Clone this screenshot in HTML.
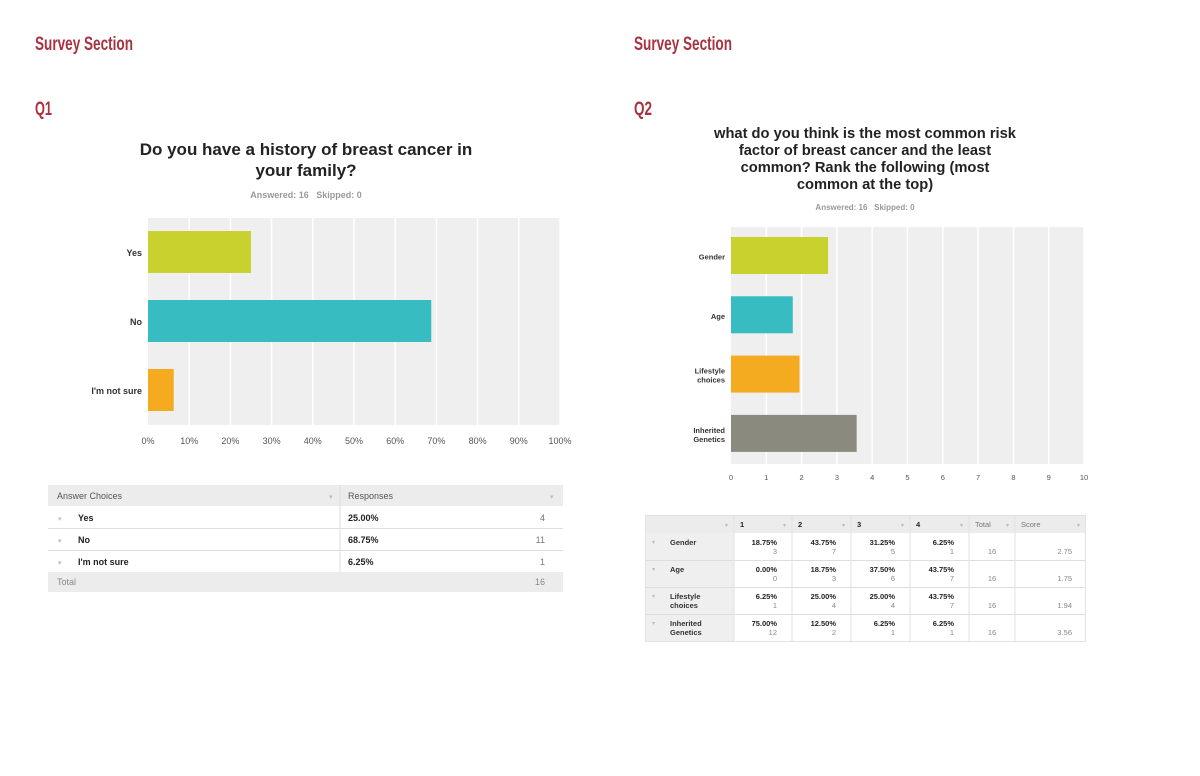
<!DOCTYPE html>
<html><head><meta charset="utf-8">
<style>
body{margin:0;background:#fff;}
svg{display:block;font-family:"Liberation Sans",sans-serif;}
.hd{font-family:"Liberation Sans Narrow","Liberation Sans",sans-serif;font-weight:bold;fill:#a83240;}
</style></head>
<body>
<svg id="s" width="1200" height="776" viewBox="0 0 1200 776">
<text class="hd" x="35" y="50" font-size="19" textLength="98" lengthAdjust="spacingAndGlyphs">Survey Section</text>
<text class="hd" x="35" y="115" font-size="19" textLength="17" lengthAdjust="spacingAndGlyphs">Q1</text>
<text class="hd" x="634" y="50" font-size="19" textLength="98" lengthAdjust="spacingAndGlyphs">Survey Section</text>
<text class="hd" x="634" y="115" font-size="19" textLength="18" lengthAdjust="spacingAndGlyphs">Q2</text>
<g font-weight="bold" font-size="17" fill="#222" text-anchor="middle">
<text x="306" y="155">Do you have a history of breast cancer in</text>
<text x="306" y="176">your family?</text></g>
<text x="306" y="198" font-size="9" fill="#999" text-anchor="middle" font-weight="bold">Answered: 16&#160;&#160;&#160;Skipped: 0</text>
<g font-weight="bold" font-size="14.7" fill="#222" text-anchor="middle">
<text x="865" y="138">what do you think is the most common risk</text>
<text x="865" y="155">factor of breast cancer and the least</text>
<text x="865" y="172">common? Rank the following (most</text>
<text x="865" y="189">common at the top)</text></g>
<text x="865" y="210" font-size="8" fill="#999" text-anchor="middle" font-weight="bold">Answered: 16&#160;&#160;&#160;Skipped: 0</text>
<g id="c1"></g><g id="c2"></g><g id="t1"></g><g id="t2"></g>
</svg>
<script>
const q1Cats=["Yes","No","I'm not sure"];
const q1Vals=[25,68.75,6.25];
const q1Ticks=[0,10,20,30,40,50,60,70,80,90,100];
const q1Colors=["#c8d12e","#36bcc1","#f5ab1f"];
const q2Cats=[["Gender"],["Age"],["Lifestyle","choices"],["Inherited","Genetics"]];
const q2Vals=[2.75,1.75,1.94,3.56];
const q2Ticks=[0,1,2,3,4,5,6,7,8,9,10];
const q2Colors=["#c8d12e","#36bcc1","#f5ab1f","#8a8b7e"];
const q1Counts=[4,11,1];
const q2Pct=[["18.75%","43.75%","31.25%","6.25%"],["0.00%","18.75%","37.50%","43.75%"],["6.25%","25.00%","25.00%","43.75%"],["75.00%","12.50%","6.25%","6.25%"]];
const q2Cnt=[[3,7,5,1],[0,3,6,7],[1,4,4,7],[12,2,1,1]];
const q2Total=[16,16,16,16];
const NS="http://www.w3.org/2000/svg";
function mk(p,t,a,txt){const e=document.createElementNS(NS,t);for(const k in a)e.setAttribute(k,a[k]);if(txt!==undefined)e.textContent=txt;p.appendChild(e);return e;}
function chart(g,x0,x1,y0,y1,max,ticks,cats,vals,cols,bh,step,fb,fs,tf,ty,lx){
  const sx=v=>x0+(x1-x0)*v/max;
  const bg=mk(g,'rect',{x:x0,y:y0,width:x1-x0,height:y1-y0,fill:'#efefef'});
  
  ticks.forEach((t,i)=>{
    if(i>0){const l=mk(g,'line',{x1:sx(t),x2:sx(t),y1:y0,y2:y1,stroke:'#fff','stroke-width':1.5});
    }
    const tx=mk(g,'text',{x:sx(t),y:ty,'font-size':fs,fill:'#555','text-anchor':'middle'},tf(t));
    
  });
  cats.forEach((c,i)=>{
    const y=y0+fb+i*step;
    const r=mk(g,'rect',{x:x0,y:y,width:sx(vals[i])-x0,height:bh,fill:cols[i]});
    
    const lines=Array.isArray(c)?c:[c];
    lines.forEach((ln,j)=>{
      const t=mk(g,'text',{x:lx,y:y+bh/2+4-(lines.length-1)*4.5+j*9,'font-size':fs,'font-weight':'bold',fill:'#333','text-anchor':'end'},ln);
      
    });
  });
}
chart(document.getElementById('c1'),148,560,218,425,100,q1Ticks,q1Cats,q1Vals,q1Colors,42,69,13,9,t=>t+'%',444,142);
chart(document.getElementById('c2'),731,1084,227,464,10,q2Ticks,q2Cats,q2Vals,q2Colors,37,59.3,10,7.5,t=>''+t,480,725);
(function(){
  const g=document.getElementById('t1');
  const L=48,R=563,M=340;
  mk(g,'rect',{x:L,y:485,width:R-L,height:21,fill:'#ececec'});
  mk(g,'text',{x:57,y:499,'font-size':9,fill:'#555'},'Answer Choices');
  mk(g,'text',{x:348,y:499,'font-size':9,fill:'#555'},'Responses');
  mk(g,'text',{x:329,y:499,'font-size':7,fill:'#bbb'},'▾');mk(g,'text',{x:550,y:499,'font-size':7,fill:'#bbb'},'▾');
  const ys=[507,529,551];
  q1Cats.forEach((c,i)=>{
    const y=ys[i];
    mk(g,'line',{x1:L,x2:R,y1:y+21.5,y2:y+21.5,stroke:'#ddd'});
    mk(g,'text',{x:58,y:y+14,'font-size':7,fill:'#bbb'},'▾');
    mk(g,'text',{x:78,y:y+14,'font-size':9,'font-weight':'bold',fill:'#222'},c);
    mk(g,'text',{x:348,y:y+14,'font-size':9,'font-weight':'bold',fill:'#222'},q1Vals[i].toFixed(2)+'%');
    mk(g,'text',{x:545,y:y+14,'font-size':9,fill:'#777','text-anchor':'end'},q1Counts[i]);
  });
  mk(g,'line',{x1:M,x2:M,y1:485,y2:572,stroke:'#ddd'});
  mk(g,'rect',{x:L,y:572,width:R-L,height:20,fill:'#ececec'});
  mk(g,'text',{x:57,y:585,'font-size':9,fill:'#888'},'Total');
  mk(g,'text',{x:545,y:585,'font-size':9,fill:'#888','text-anchor':'end'},q1Counts.reduce((a,b)=>a+b,0));
})();
(function(){
  const g=document.getElementById('t2');
  const cx=[645,734,792,851,910,969,1015,1086];
  mk(g,'rect',{x:645,y:515,width:441,height:18,fill:'#ececec'});
  mk(g,'rect',{x:645,y:533,width:89,height:108,fill:'#efefef'});
  const hd=['','1','2','3','4','Total','Score'];
  hd.forEach((h,i)=>{
    mk(g,'text',{x:cx[i]+6,y:527,'font-size':7.5,fill:i<5?'#222':'#777','font-weight':i<5?'bold':'normal'},h);
    mk(g,'text',{x:cx[i+1]-9,y:527,'font-size':6,fill:'#bbb'},'▾');
  });
  const ys=[534,561,588,615];
  q2Cats.forEach((c,i)=>{
    const y=ys[i];
    mk(g,'line',{x1:645,x2:1086,y1:y+26.5,y2:y+26.5,stroke:'#ddd'});
    mk(g,'text',{x:652,y:y+10,'font-size':6,fill:'#bbb'},'▾');
    c.forEach((ln,j)=>mk(g,'text',{x:670,y:y+11+j*9,'font-size':7.5,'font-weight':'bold',fill:'#333'},ln));
    for(let k=0;k<4;k++){
      mk(g,'text',{x:cx[k+2]-15,y:y+11,'font-size':7.5,'font-weight':'bold',fill:'#222','text-anchor':'end'},q2Pct[i][k]);
      mk(g,'text',{x:cx[k+2]-15,y:y+20,'font-size':7.5,fill:'#888','text-anchor':'end'},q2Cnt[i][k]);
    }
    mk(g,'text',{x:992,y:y+20,'font-size':7.5,fill:'#888','text-anchor':'middle'},q2Total[i]);
    mk(g,'text',{x:1072,y:y+20,'font-size':7.5,fill:'#888','text-anchor':'end'},q2Vals[i].toFixed(2));
  });
  for(let i=1;i<7;i++)mk(g,'line',{x1:cx[i],x2:cx[i],y1:515,y2:641,stroke:'#e2e2e2'});
  mk(g,'rect',{x:645.5,y:515.5,width:440,height:126,fill:'none',stroke:'#e2e2e2'});
})();
</script>
</body></html>
